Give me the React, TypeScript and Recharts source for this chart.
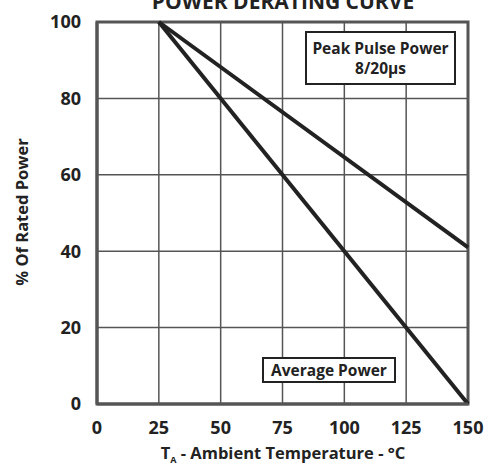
import React from "react";
import { LineChart, Line, XAxis, YAxis, CartesianGrid, ReferenceArea } from "recharts";

const temps = [25, 150];
const averagePower = [100, 0];
const peakPulsePower = [100, 41];
const xTicks = [0, 25, 50, 75, 100, 125, 150];
const yTicks = [0, 20, 40, 60, 80, 100];

const data = temps.map((t, i) => ({
  temp: t,
  avg: averagePower[i],
  peak: peakPulsePower[i]
}));

const font = "'Open Sans', sans-serif";

const boxStyle: React.CSSProperties = {
  position: "absolute",
  background: "#fff",
  border: "2px solid #222",
  boxSizing: "border-box",
  fontFamily: font,
  fontWeight: 700,
  fontSize: 15.5,
  color: "#222",
  textAlign: "center",
  lineHeight: "20px",
  whiteSpace: "nowrap"
};

const App: React.FC = () => {
  return (
    <div style={{ position: "absolute", left: 0, top: 0, width: 489, height: 468, background: "#fff", overflow: "hidden" }}>
      <LineChart
        width={489}
        height={468}
        data={data}
        margin={{ top: 22, right: 21, bottom: 0, left: 0 }}
      >
        <CartesianGrid stroke="#555" strokeWidth={1.5} />
        <XAxis
          dataKey="temp"
          type="number"
          domain={[0, 150]}
          ticks={xTicks}
          height={64}
          tickLine={false}
          axisLine={{ stroke: "#555", strokeWidth: 3 }}
          tickMargin={11}
          tick={{ fill: "#222", fontSize: 18, fontWeight: 700, fontFamily: font }}
        />
        <YAxis
          type="number"
          domain={[0, 100]}
          ticks={yTicks}
          width={97}
          tickLine={false}
          axisLine={{ stroke: "#555", strokeWidth: 3 }}
          tickMargin={10}
          tick={{ fill: "#222", fontSize: 18, fontWeight: 700, fontFamily: font }}
        />
        <ReferenceArea x1={0} x2={150} y1={0} y2={100} fill="none" stroke="#555" strokeWidth={3} />
        <Line dataKey="avg" stroke="#222" strokeWidth={4} dot={false} isAnimationActive={false} />
        <Line dataKey="peak" stroke="#222" strokeWidth={4} dot={false} isAnimationActive={false} />
      </LineChart>

      <div style={{ position: "absolute", left: 0, width: 566, top: -13, textAlign: "center", fontFamily: font, fontWeight: 700, fontSize: 21, color: "#222", whiteSpace: "nowrap" }}>
        POWER DERATING CURVE
      </div>

      <div style={{ ...boxStyle, left: 305, top: 31, width: 151, height: 54, paddingTop: 5 }}>
        Peak Pulse Power
        <br />
        8/20µs
      </div>
      <div style={{ ...boxStyle, left: 262, top: 357, width: 134, height: 26, paddingTop: 1 }}>
        Average Power
      </div>

      <div style={{ position: "absolute", left: 0, width: 566, top: 441, textAlign: "center", fontFamily: font, fontWeight: 700, fontSize: 16.5, color: "#222", whiteSpace: "nowrap" }}>
        T<sub style={{ fontSize: 9 }}>A</sub> - Ambient Temperature - °C
      </div>
      <div
        style={{
          position: "absolute",
          left: 21,
          top: 212,
          transform: "translate(-50%, -50%) rotate(-90deg)",
          whiteSpace: "nowrap",
          fontFamily: font,
          fontWeight: 700,
          fontSize: 16.5,
          color: "#222"
        }}
      >
        % Of Rated Power
      </div>
    </div>
  );
};

export default App;
